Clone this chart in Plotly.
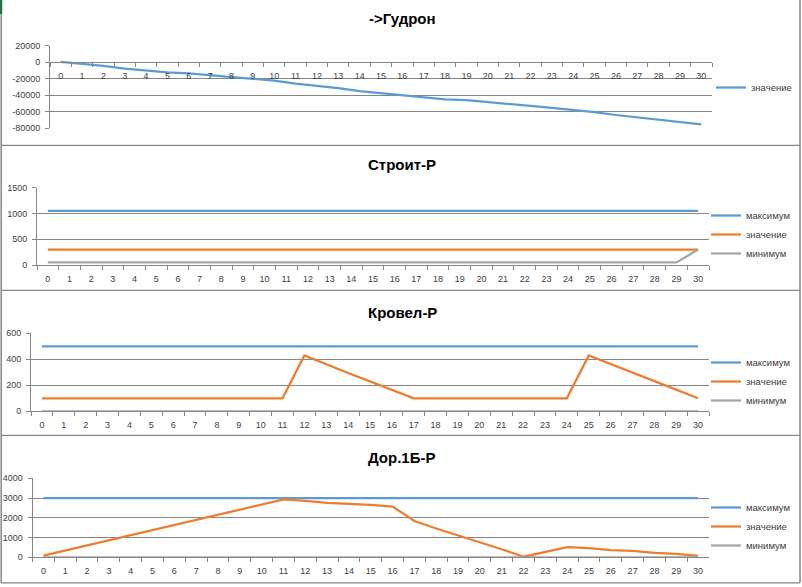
import plotly.graph_objects as go

W, H = 802, 587

# ---------------- data ----------------
days = ["0", "1", "2", "3", "4", "5", "6", "7", "8", "9", "10", "11", "12", "13", "14", "15",
        "16", "17", "18", "19", "20", "21", "22", "23", "24", "25", "26", "27", "28", "29", "30"]

gudron_value = [500, -1600, -4500, -7800, -10200, -12200, -13500, -15500, -18000, -19600, -22400,
                -26000, -28500, -31400, -35000, -37500, -40000, -42400, -45000, -46000, -48600,
                -51000, -53000, -55500, -58000, -60400, -64000, -67000, -69400, -72700, -75500]

stroit_max = [1050, 1050, 1050, 1050, 1050, 1050, 1050, 1050, 1050, 1050, 1050, 1050, 1050, 1050, 1050, 1050,
              1050, 1050, 1050, 1050, 1050, 1050, 1050, 1050, 1050, 1050, 1050, 1050, 1050, 1050, 1050]
stroit_value = [300, 300, 300, 300, 300, 300, 300, 300, 300, 300, 300, 300, 300, 300, 300, 300,
                300, 300, 300, 300, 300, 300, 300, 300, 300, 300, 300, 300, 300, 300, 300]
stroit_min = [50, 50, 50, 50, 50, 50, 50, 50, 50, 50, 50, 50, 50, 50, 50, 50,
              50, 50, 50, 50, 50, 50, 50, 50, 50, 50, 50, 50, 50, 50, 300]

krovel_max = [500, 500, 500, 500, 500, 500, 500, 500, 500, 500, 500, 500, 500, 500, 500, 500,
              500, 500, 500, 500, 500, 500, 500, 500, 500, 500, 500, 500, 500, 500, 500]
krovel_value = [100, 100, 100, 100, 100, 100, 100, 100, 100, 100, 100, 100, 430, 360, 295, 230,
                165, 100, 100, 100, 100, 100, 100, 100, 100, 430, 365, 302, 238, 167, 100]
krovel_min = [0, 0, 0, 0, 0, 0, 0, 0, 0, 0, 0, 0, 0, 0, 0, 0,
              0, 0, 0, 0, 0, 0, 0, 0, 0, 0, 0, 0, 0, 0, 0]

dor_max = [3000, 3000, 3000, 3000, 3000, 3000, 3000, 3000, 3000, 3000, 3000, 3000, 3000, 3000, 3000, 3000,
           3000, 3000, 3000, 3000, 3000, 3000, 3000, 3000, 3000, 3000, 3000, 3000, 3000, 3000, 3000]
dor_value = [80, 340, 600, 860, 1120, 1380, 1640, 1900, 2160, 2420, 2680, 2930, 2860, 2760, 2710, 2660,
             2570, 1840, 1460, 1120, 780, 410, 30, 270, 520, 470, 360, 320, 220, 170, 70]
dor_min = [0, 0, 0, 0, 0, 0, 0, 0, 0, 0, 0, 0, 0, 0, 0, 0,
           0, 0, 0, 0, 0, 0, 0, 0, 0, 0, 0, 0, 0, 0, 0]

titles = ["->Гудрон", "Строит-Р", "Кровел-Р", "Дор.1Б-Р"]

ytick_gudron = [20000, 0, -20000, -40000, -60000, -80000]
ytick_gudron_text = ["20000", "0", "-20000", "-40000", "-60000", "-80000"]
ytick_stroit = [0, 500, 1000, 1500]
ytick_krovel = [0, 200, 400, 600]
ytick_dor = [0, 1000, 2000, 3000, 4000]

# ---------------- styles ----------------
C_MAX, C_VAL, C_MIN = "#5B9BD5", "#ED7D31", "#A5A5A5"
GRID = "#868686"
TXT = "#404040"
FONT = "Liberation Sans"
LW = 2.25

def px_x(p):
    return p / W

def px_y(p):
    return 1 - p / H

fig = go.Figure()

# panel geometry (pixels): left, right, top, bottom
panels = [
    dict(l=50, r=712, t=45.7, b=128.2),
    dict(l=37, r=709, t=187.7, b=265.0),
    dict(l=31, r=709, t=333.3, b=411.3),
    dict(l=32.5, r=709, t=478.3, b=557.3),
]
title_y = [18, 164, 312, 457]
legend_top = [73, 201, 348, 493]
legend_right = [797, 795, 795, 795]

data_sets = [
    [(gudron_value, "значение", C_MAX)],
    [(stroit_max, "максимум", C_MAX), (stroit_value, "значение", C_VAL), (stroit_min, "минимум", C_MIN)],
    [(krovel_max, "максимум", C_MAX), (krovel_value, "значение", C_VAL), (krovel_min, "минимум", C_MIN)],
    [(dor_max, "максимум", C_MAX), (dor_value, "значение", C_VAL), (dor_min, "минимум", C_MIN)],
]
yranges = [[-80000, 20000], [0, 1500], [0, 600], [0, 4000]]
yticks = [(ytick_gudron, ytick_gudron_text), (ytick_stroit, [str(v) for v in ytick_stroit]),
          (ytick_krovel, [str(v) for v in ytick_krovel]), (ytick_dor, [str(v) for v in ytick_dor])]

layout = {}
for i, pnl in enumerate(panels):
    n = i + 1
    xs = "" if n == 1 else str(n)
    lg = "legend" if n == 1 else f"legend{n}"
    for vals, name, color in data_sets[i]:
        fig.add_trace(go.Scatter(
            x=days, y=vals, name=name, mode="lines",
            line=dict(color=color, width=LW),
            xaxis=f"x{xs}", yaxis=f"y{xs}", legend=lg, showlegend=True,
        ))
    ydom = [px_y(pnl["b"]), px_y(pnl["t"])]
    xax = dict(
        domain=[px_x(pnl["l"]), px_x(pnl["r"])],
        type="category", tickson="boundaries", range=[-0.5, 30.5],
        ticks="outside", ticklen=4, tickcolor=GRID,
        showline=True, linecolor=GRID, linewidth=1,
        showgrid=False, zeroline=False,
        tickfont=dict(family=FONT, size=9, color=TXT),
        ticklabelstandoff=5,
        fixedrange=True,
    )
    if n == 1:
        xax.update(anchor="free", position=px_y(62.2))
    else:
        xax.update(anchor=f"y{xs}")
    yax = dict(
        domain=ydom, range=yranges[i], anchor=f"x{xs}",
        tickmode="array", tickvals=yticks[i][0], ticktext=yticks[i][1],
        showgrid=True, gridcolor=GRID, gridwidth=1,
        showline=True, linecolor=GRID, linewidth=1,
        ticks="outside", ticklen=4, tickcolor=GRID,
        zeroline=False,
        tickfont=dict(family=FONT, size=9, color=TXT),
        ticklabelstandoff=3,
        fixedrange=True,
    )
    layout[f"xaxis{xs}"] = xax
    layout[f"yaxis{xs}"] = yax
    layout[lg] = dict(
        x=px_x(legend_right[i]), y=px_y(legend_top[i]), xanchor="right", yanchor="top",
        font=dict(family=FONT, size=9.5, color=TXT),
        bgcolor="rgba(0,0,0,0)", borderwidth=0, traceorder="normal",
        itemwidth=30, tracegroupgap=0,
    )

annotations = []
for i, t in enumerate(titles):
    annotations.append(dict(
        text=f"<b>{t}</b>", x=px_x(402), y=px_y(title_y[i]), xref="paper", yref="paper",
        xanchor="center", yanchor="middle", showarrow=False,
        font=dict(family=FONT, size=15, color="#000000"),
    ))

shapes = []
for yy in [145.3, 290.3, 435.3, 582.8]:
    shapes.append(dict(type="line", xref="paper", yref="paper",
                       x0=px_x(1), x1=px_x(800), y0=px_y(yy), y1=px_y(yy),
                       line=dict(color=GRID, width=1.2)))
for xx in [1.2, 800]:
    shapes.append(dict(type="line", xref="paper", yref="paper",
                       x0=px_x(xx), x1=px_x(xx), y0=px_y(0), y1=px_y(582.8),
                       line=dict(color=GRID, width=1.5)))
shapes.append(dict(type="line", xref="paper", yref="paper",
                   x0=px_x(1), x1=px_x(1), y0=px_y(0), y1=px_y(14),
                   line=dict(color="#217346", width=2.5)))

fig.update_layout(
    width=W, height=H,
    margin=dict(l=0, r=0, t=0, b=0, autoexpand=False),
    paper_bgcolor="white", plot_bgcolor="white",
    annotations=annotations, shapes=shapes,
    **layout,
)

fig.write_html(
    "out.html",
    config={"displayModeBar": False},
    post_script="document.body.style.margin='0';document.body.style.padding='0';"
                "document.body.style.overflow='hidden';",
)
